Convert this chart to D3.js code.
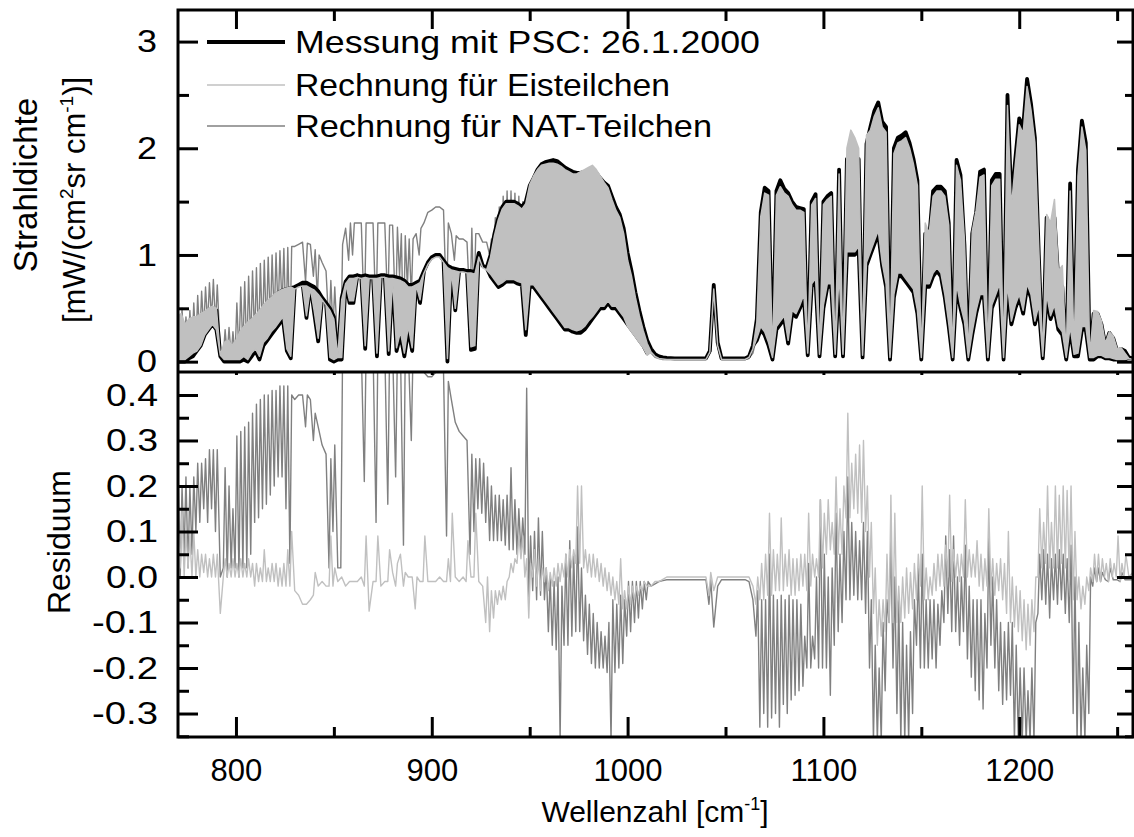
<!DOCTYPE html>
<html><head><meta charset="utf-8">
<script src="https://cdnjs.cloudflare.com/ajax/libs/d3/7.8.5/d3.min.js"></script>
<style>
body{margin:0;background:#fff}
text{font-family:"Liberation Sans",Arial,Helvetica,sans-serif;fill:#000}
</style></head>
<body><svg id="c" width="1134" height="837"></svg>
<script>
// wavenumber grid: bins of 2 cm-1 starting at 770 cm-1; value = number or [min,max] within the bin
const wnStart = 770, wnStep = 2;

const messung = [
[0,0.3],[0,0.35],[0,0.25],[0.03,0.3],[0.05,0.35],
[0.1,0.38],[0.15,0.4],[0.25,0.43],[0.3,0.47],[0.35,0.5],
[0.3,0.48],0.05,[0,0.1],[0,0.12],[0,0.08],
[0,0.15],[0,0.22],[0.02,0.28],[0,0.32],[0.05,0.36],
[0.1,0.4],[0.02,0.45],[0.15,0.5],[0.2,0.55],[0.25,0.58],
[0.3,0.62],[0.35,0.65],[0.4,0.67],[0.1,0.68],[0.03,0.69],
0.7,0.72,0.74,[0.41,0.74],0.72,
[0.45,0.7],[0.19,0.66],0.6,0.55,[0.02,0.5],
[0,0.42],0.02,[0.02,0.6],0.75,[0.55,0.8],
[0.55,0.8],0.81,0.8,[0.12,0.81],0.8,
0.8,[0.05,0.8],0.81,0.81,[0.07,0.8],
0.8,[0.1,0.79],[0.25,0.78],[0.05,0.76],[0.3,0.72],
[0.1,0.72],0.74,[0.55,0.76],0.85,0.93,
0.98,1.0,1.0,0.95,[0,0.9],
0.88,[0.48,0.87],0.86,0.86,0.85,
[0.11,0.85],[0.12,0.84],1.02,0.9,0.88,
[0.8,1.0],[0.75,1.2],[0.7,1.35],[0.72,1.45],[0.75,1.5],
[0.75,1.5],[0.75,1.5],[0.73,1.48],[0.72,1.45],[0.25,1.5],
[0.7,1.65],[0.7,1.72],[0.65,1.8],[0.6,1.85],[0.55,1.87],
[0.5,1.88],[0.45,1.89],[0.4,1.88],[0.35,1.85],[0.3,1.82],
[0.3,1.8],[0.28,1.78],[0.27,1.77],[0.27,1.77],[0.3,1.78],
[0.35,1.78],[0.4,1.78],[0.45,1.77],[0.5,1.72],[0.5,1.68],
[0.55,1.65],[0.5,1.55],[0.5,1.45],[0.45,1.38],[0.4,1.25],
[0.35,1.02],[0.3,0.85],[0.25,0.65],[0.2,0.48],[0.15,0.33],
[0.08,0.2],0.12,0.07,0.05,0.04,
0.035,0.033,0.03,0.03,0.03,
0.03,0.03,0.03,0.03,0.03,
0.03,0.1,0.72,0.18,0.03,
0.03,0.03,0.03,0.03,0.03,
0.03,0.05,0.15,[0.2,0.4],[0.3,1.4],
[0.25,1.63],[0.15,1.6],0.02,[0.3,1.6],[0.35,1.7],
[0.4,1.62],[0.17,1.58],[0.45,1.5],[0.42,1.45],[0.5,1.44],
[0.6,1.43],0.06,[0.7,1.5],[0.75,1.57],0.05,
[0.5,1.5],[0.7,1.55],[0.7,1.58],0.05,[0.8,1.8],
0.05,[1.0,1.9],[1.0,1.92],[1.0,1.9],[1.05,1.9],
0.04,[0.9,2.04],[1.0,2.2],[1.1,2.35],[1.2,2.43],
[0.9,2.25],[0.7,2.2],0.02,[0.6,2.0],[0.8,2.1],
[0.8,2.12],[0.75,2.15],[0.7,2.05],[0.65,1.9],[0.45,1.7],
0.02,[0.7,1.2],[0.7,1.15],[0.8,1.6],[0.85,1.64],
[0.8,1.64],[0.6,1.6],[0.33,1.3],0.02,[0.7,1.89],
[0.5,1.75],[0.35,1.1],0.02,[0.25,1.2],[0.45,1.4],
[0.6,1.78],[0.6,1.8],0.02,[0.5,1.7],[0.6,1.76],
[0.7,1.76],0.02,[0.7,2.5],[0.35,1.5],[0.5,1.9],
[0.6,2.28],[0.45,2.2],[0.7,2.65],[0.6,2.42],[0.35,2.1],
[0.5,1.0],0.03,[0.6,1.35],[0.4,1.2],[0.5,1.35],
[0.3,0.75],[0.25,0.7],0.02,[0.3,1.67],0.05,
[0.05,1.8],[0.3,2.26],[0.3,2.05],0.02,[0.02,0.45],
[0.05,0.45],[0.05,0.35],[0.03,0.15],[0.03,0.27],[0.02,0.22],
[0.02,0.1],[0.02,0.12],[0.02,0.1],0.04,0.03
];

const eis = [
[0.02,0.42],[0.02,0.45],[0.02,0.35],[0.05,0.4],[0.08,0.42],
[0.1,0.42],[0.15,0.45],[0.25,0.47],[0.3,0.5],[0.35,0.52],
[0.3,0.5],0.06,[0.02,0.18],[0.02,0.2],[0.02,0.15],
[0.02,0.2],[0.02,0.28],[0.05,0.33],[0.02,0.37],[0.08,0.4],
[0.12,0.44],[0.05,0.48],[0.18,0.53],[0.22,0.57],[0.28,0.6],
[0.32,0.64],[0.37,0.66],[0.42,0.68],[0.12,0.69],[0.05,0.7],
0.68,0.7,0.71,[0.43,0.71],0.69,
[0.47,0.67],[0.22,0.63],0.58,0.53,[0.04,0.48],
[0.02,0.4],0.04,[0.04,0.58],0.73,[0.57,0.78],
[0.57,0.78],0.79,0.78,[0.15,0.79],0.78,
0.78,[0.08,0.78],0.79,0.79,[0.1,0.78],
0.78,[0.13,0.77],[0.28,0.76],[0.08,0.74],[0.33,0.7],
[0.13,0.7],0.72,[0.58,0.74],0.83,0.91,
0.96,0.98,0.98,0.93,[0.03,0.88],
0.86,[0.5,0.85],0.84,0.84,0.83,
[0.14,0.83],[0.15,0.82],0.98,0.88,0.86,
[0.82,0.98],[0.77,1.18],[0.72,1.33],[0.74,1.43],[0.77,1.48],
[0.77,1.48],[0.77,1.48],[0.75,1.46],[0.74,1.43],[0.3,1.48],
[0.72,1.66],[0.72,1.74],[0.67,1.8],[0.62,1.84],[0.57,1.85],
[0.52,1.86],[0.47,1.86],[0.42,1.85],[0.37,1.83],[0.32,1.8],
[0.32,1.78],[0.3,1.76],[0.29,1.76],[0.3,1.78],[0.33,1.8],
[0.38,1.82],[0.42,1.84],[0.47,1.8],[0.52,1.74],[0.52,1.68],
[0.57,1.63],[0.52,1.52],[0.52,1.42],[0.47,1.35],[0.42,1.2],
[0.33,0.95],[0.28,0.8],[0.23,0.6],[0.18,0.43],[0.13,0.29],
[0.06,0.17],0.09,0.05,0.03,0.025,
0.02,0.02,0.02,0.02,0.02,
0.02,0.02,0.02,0.02,0.02,
0.02,0.09,0.68,0.15,0.02,
0.02,0.02,0.02,0.02,0.02,
0.02,0.04,0.12,[0.22,0.37],[0.33,1.36],
[0.28,1.58],[0.18,1.56],0.04,[0.33,1.56],[0.38,1.64],
[0.43,1.58],[0.2,1.55],[0.48,1.47],[0.45,1.42],[0.53,1.42],
[0.63,1.4],0.08,[0.73,1.47],[0.78,1.53],0.07,
[0.53,1.47],[0.73,1.52],[0.73,1.55],0.07,[0.83,1.76],
0.07,[1.03,2.0],[1.03,2.17],[1.03,2.1],[1.08,2.0],
0.06,[0.93,2.12],[1.03,2.17],[1.13,2.3],[1.23,2.38],
[0.93,2.2],[0.73,2.15],0.04,[0.63,1.95],[0.83,2.05],
[0.83,2.07],[0.78,2.1],[0.73,2.0],[0.68,1.85],[0.48,1.65],
0.04,[0.73,1.3],[0.73,1.2],[0.83,1.55],[0.88,1.6],
[0.83,1.6],[0.63,1.55],[0.36,1.28],0.04,[0.73,1.84],
[0.53,1.7],[0.38,1.15],0.04,[0.28,1.22],[0.48,1.42],
[0.63,1.73],[0.63,1.75],0.04,[0.53,1.65],[0.63,1.71],
[0.73,1.71],0.04,[0.73,2.4],[0.38,1.45],[0.53,1.85],
[0.63,2.22],[0.48,2.14],[0.73,2.58],[0.63,2.36],[0.38,2.05],
[0.53,1.05],0.05,[0.63,1.38],[0.43,1.3],[0.53,1.52],
[0.33,0.85],[0.28,0.9],0.04,[0.33,1.6],0.07,
[0.08,1.74],[0.33,2.2],[0.33,1.98],0.04,[0.04,0.48],
[0.06,0.47],[0.06,0.38],[0.04,0.17],[0.04,0.28],[0.03,0.24],
[0.02,0.12],[0.02,0.13],[0.02,0.08],0.03,0.02
];

const nat = [
[0.05,0.5],[0.05,0.5],[0.05,0.42],[0.1,0.48],[0.12,0.55],
[0.15,0.62],[0.2,0.66],[0.3,0.7],[0.35,0.74],[0.4,0.77],
[0.35,0.72],0.08,[0.05,0.3],[0.05,0.32],[0.05,0.28],
[0.05,0.55],[0.05,0.7],[0.1,0.75],[0.05,0.8],[0.15,0.85],
[0.2,0.88],[0.15,0.92],[0.25,0.95],[0.3,0.98],[0.35,1.0],
[0.4,1.02],[0.45,1.04],[0.5,1.06],[0.3,1.07],[0.2,1.08],
1.08,1.1,1.12,[0.75,1.11],1.1,
[0.8,1.05],[0.6,1.0],0.93,0.85,[0.3,0.76],
[0.3,0.7],0.1,[0.1,1.1],1.25,[0.95,1.3],
[1.0,1.3],1.3,1.3,[0.4,1.3],1.3,
1.3,[0.4,1.3],1.3,1.3,[0.5,1.28],
1.28,[0.4,1.26],[0.8,1.2],[0.2,1.18],[0.7,1.15],
[0.6,1.15],1.2,[1.0,1.25],1.3,1.4,
1.42,1.45,1.45,1.42,[0.5,1.3],
1.2,[0.95,1.18],1.15,1.15,1.12,
[0.5,1.25],[0.5,1.2],1.2,1.12,1.12,
[1.0,1.15],[0.95,1.35],[0.9,1.45],[0.9,1.55],[0.9,1.6],
[0.9,1.6],[0.9,1.58],[0.88,1.55],[0.85,1.5],[0.4,1.5],
[0.8,1.6],[0.75,1.62],[0.65,1.65],[0.6,1.7],[0.55,1.72],
[0.5,1.75],[0.45,1.75],[0.4,1.72],[0.35,1.7],[0.3,1.68],
[0.3,1.68],[0.28,1.66],[0.27,1.65],[0.27,1.63],[0.3,1.62],
[0.35,1.62],[0.4,1.6],[0.45,1.58],[0.5,1.55],[0.5,1.5],
[0.55,1.45],[0.5,1.4],[0.5,1.3],[0.45,1.22],[0.4,1.1],
[0.35,0.88],[0.3,0.72],[0.25,0.52],[0.2,0.37],[0.15,0.24],
[0.08,0.15],0.08,0.04,0.03,0.02,
0.02,0.02,0.02,0.02,0.02,
0.02,0.02,0.02,0.02,0.02,
0.02,0.08,0.62,0.14,0.02,
0.02,0.02,0.02,0.02,0.02,
0.02,0.03,0.08,[0.2,0.3],[0.3,1.2],
[0.25,1.45],[0.15,1.4],0.02,[0.3,1.4],[0.35,1.45],
[0.4,1.45],[0.17,1.4],[0.45,1.35],[0.42,1.3],[0.5,1.3],
[0.6,1.3],0.06,[0.7,1.35],[0.75,1.4],0.05,
[0.5,1.35],[0.7,1.4],[0.7,1.4],0.05,[0.8,1.6],
0.05,[1.0,1.8],[1.0,1.8],[1.0,1.8],[1.05,1.8],
0.04,[0.9,1.9],[1.0,1.95],[1.1,1.95],[1.2,1.95],
[0.95,1.9],[0.75,1.85],0.02,[0.65,1.7],[0.85,1.8],
[0.85,1.8],[0.8,1.8],[0.75,1.75],[0.7,1.65],[0.5,1.5],
0.02,[0.75,1.05],[0.75,1.0],[0.85,1.4],[0.9,1.45],
[0.85,1.45],[0.65,1.4],[0.35,1.1],0.02,[0.75,1.65],
[0.55,1.55],[0.4,0.95],0.02,[0.3,1.0],[0.5,1.2],
[0.65,1.55],[0.65,1.55],0.02,[0.55,1.45],[0.65,1.5],
[0.75,1.5],0.02,[0.75,2.1],[0.4,1.25],[0.55,1.6],
[0.65,1.95],[0.5,1.85],[0.75,2.3],[0.65,2.1],[0.4,1.8],
[0.5,0.8],0.03,[0.6,1.2],[0.4,1.05],[0.5,1.2],
[0.3,0.65],[0.25,0.6],0.02,[0.3,1.5],0.05,
[0.05,1.5],[0.3,1.85],[0.3,1.7],0.02,[0.02,0.4],
[0.05,0.4],[0.05,0.3],[0.03,0.12],[0.03,0.22],[0.02,0.18],
0.02,0.02,0.02,0.02,0.02
];

const resEis = [
[0,0.12],[0.02,0.15],[0,0.1],[0.02,0.09],[0,0.1],
[0,0.06],[0,0.05],[0.01,0.05],[0,0.04],[0,0.05],
[0,0.05],-0.08,[0,0.04],[0,0.03],[0,0.04],
[0,0.03],[0,0.04],[0,0.03],[0,0.04],[0,0.03],
[-0.02,0.03],[-0.01,0.02],[-0.01,0.06],[-0.01,0.02],[-0.01,0.03],
[-0.01,0.03],[-0.02,0.02],[-0.02,0.03],[-0.02,0.06],[-0.02,0.1],
-0.03,-0.04,-0.06,-0.06,-0.05,
[-0.04,0.01],-0.02,-0.01,-0.02,[-0.02,0.09],
[-0.02,0.02],-0.01,0.0,-0.02,-0.01,
-0.01,-0.01,0.0,[-0.02,0.09],-0.075,
-0.01,[-0.01,0.09],-0.02,-0.01,[-0.01,0.06],
0.01,[-0.02,0.03],0.05,[-0.02,0.01],0.0,
0.0,[-0.07,0.0],-0.01,[-0.01,0.09],-0.01,
-0.01,-0.01,0.0,-0.01,[-0.01,0.04],
[-0.01,0.14],0.0,-0.01,0.0,[-0.01,0.08],
0.0,[0.0,0.14],-0.01,-0.02,[-0.1,0.0],
[-0.12,-0.03],[-0.09,-0.03],[-0.06,-0.03],[-0.05,-0.02],[-0.05,-0.01],
[0,0.03],[0.01,0.04],[0.03,0.09],[0.04,0.09],[0,0.04],
[-0.09,0.03],[0,0.06],[-0.02,0.04],[-0.03,0.02],[-0.01,0.02],
[-0.03,0.01],[-0.02,0.02],[-0.02,0.03],[-0.01,0.03],[0,0.05],
[0,0.06],[0.02,0.06],[0.03,0.2],[0.03,0.2],[0.02,0.06],
[0.01,0.05],[0,0.05],[0,0.04],[-0.01,0.03],[-0.02,0.02],
[-0.03,0.01],[-0.04,0],[-0.05,-0.01],[-0.06,0.04],[-0.07,-0.03],
[-0.07,-0.02],[-0.06,-0.02],[-0.05,-0.02],[-0.04,-0.02],[-0.03,-0.01],
-0.02,-0.02,-0.01,-0.01,-0.005,
0,0,0,0,0,
0,0,0,0,0,
0,[-0.04,0.01],-0.03,0,0,
0,0,0,0,0,
0,0,-0.02,[-0.06,0],[-0.05,0.03],
[-0.05,0.05],[-0.04,0.14],[-0.04,0.06],[-0.03,0.05],[-0.03,0.13],
[-0.03,0.05],[-0.02,0.06],[-0.04,0.04],[-0.04,0.04],[-0.03,0.05],
[-0.02,0.05],[-0.03,0.14],[-0.02,0.05],[0,0.04],[0,0.17],
[0.02,0.14],[0.05,0.17],[0.06,0.12],[0.05,0.22],[0.05,0.15],
[0.05,0.2],[0.13,0.36],[0.13,0.25],[0.15,0.27],[0.14,0.29],
[0.12,0.3],[0.1,0.2],[0,0.12],[-0.08,0.02],[-0.15,-0.05],
[-0.13,-0.05],[-0.12,0.05],[-0.1,0.18],[-0.1,0.14],[-0.1,-0.02],
[-0.1,0],[-0.09,0.02],[-0.08,0.01],[-0.07,0.03],[-0.05,0.05],
[-0.02,0.2],[-0.05,0.02],[-0.05,0],[-0.04,0.03],[-0.03,0.05],
[-0.02,0.05],[-0.02,0.07],[0,0.18],[-0.01,0.06],[0,0.05],
[-0.01,0.05],[0,0.17],[0,0.06],[0,0.05],[0,0.08],
[-0.02,0.05],[-0.03,0.04],[-0.02,0.15],[-0.03,0.04],[-0.04,0.03],
[-0.03,0.04],[-0.05,0.03],[-0.08,0.1],[-0.1,0],[-0.11,-0.02],
[-0.12,-0.03],[-0.14,-0.05],[-0.16,-0.06],[-0.15,-0.05],[-0.12,0],
[0,0.15],[0.02,0.12],[0.03,0.2],[0.02,0.12],[0.02,0.2],
[0.02,0.18],[0.03,0.2],[0.02,0.19],[0,0.2],[-0.05,0.1],
[-0.05,0],[-0.07,-0.02],[-0.06,0],[-0.03,0.02],[-0.01,0.05],
[-0.01,0.05],[-0.01,0.04],[0,0.03],[-0.01,0.04],[0,0.03],
[0,0.09],[-0.01,0.03],[0,0.05],0,0.01
];

const resNat = [
[0.02,0.22],[0,0.2],[0.05,0.22],[0.02,0.2],[0.05,0.22],
[0.1,0.25],[0.12,0.25],[0.15,0.26],[0.12,0.28],[0.15,0.28],
[0.1,0.28],0.0,[0.02,0.24],[0,0.2],[0.02,0.15],
[0.02,0.31],[0,0.32],[0.02,0.33],[0.02,0.34],[0.05,0.36],
[0.12,0.38],[0.13,0.39],[0.15,0.4],[0.16,0.4],[0.18,0.41],
[0.2,0.41],[0.22,0.42],[0.22,0.42],[0.15,0.42],[0.03,0.4],
0.39,0.4,0.4,[0.33,0.4],0.39,
[0.3,0.36],0.33,0.29,0.27,[0.02,0.26],
[0.1,0.29],0.02,[0.02,0.5],0.5,0.5,
0.5,0.5,0.5,[0.21,0.5],0.5,
0.5,[0.12,0.5],0.5,0.5,[0.16,0.5],
0.5,[0.22,0.5],0.5,[0.07,0.5],0.5,
[0.3,0.5],0.45,0.45,0.45,0.44,
0.44,0.45,0.45,0.45,[0.09,0.43],
0.39,0.34,0.32,0.31,0.3,
[0.05,0.27],[0.1,0.26],[0.15,0.26],[0.14,0.25],[0.12,0.22],
[0.08,0.2],[0.08,0.18],[0.08,0.18],[0.08,0.17],[0.07,0.18],
[0.06,0.24],[0.06,0.17],[0.05,0.15],[0.05,0.13],[0.05,0.415],
[-0.05,0.09],[-0.03,0.1],[-0.05,0.13],[-0.04,0.1],[-0.05,0.02],
[-0.12,0],[-0.15,-0.01],[-0.16,0],[-0.36,-0.02],[-0.15,0.05],
[-0.15,0.08],[-0.13,0.05],[-0.12,0.11],[-0.12,0.02],[-0.14,-0.04],
[-0.17,-0.06],[-0.19,-0.08],[-0.2,-0.1],[-0.2,-0.12],[-0.2,-0.13],
[-0.21,-0.1],[-0.36,-0.05],[-0.21,-0.06],[-0.2,-0.04],[-0.19,-0.05],
[-0.13,-0.01],[-0.12,-0.01],[-0.1,-0.01],[-0.09,-0.01],[-0.07,-0.01],
[-0.05,-0.01],-0.02,-0.015,-0.01,-0.008,
-0.006,-0.006,-0.006,-0.006,-0.006,
-0.006,-0.006,-0.006,-0.006,-0.006,
-0.006,[-0.06,-0.006],-0.11,-0.02,-0.006,
-0.006,-0.006,-0.006,-0.006,-0.006,
-0.006,-0.01,-0.05,[-0.13,-0.03],[-0.33,-0.05],
[-0.3,-0.05],[-0.33,0.05],[-0.31,-0.04],[-0.3,-0.05],[-0.33,-0.04],
[-0.28,-0.05],[-0.3,-0.04],[-0.27,-0.05],[-0.26,-0.05],[-0.25,-0.06],
[-0.24,-0.13],[-0.2,0.03],[-0.2,-0.13],[-0.18,0],[-0.2,0.17],
[-0.2,0.05],[-0.2,0],[-0.26,0.02],[-0.15,0.14],[-0.12,0.05],
[-0.1,0.1],[-0.05,0.22],[-0.05,0.12],[-0.04,0.1],[-0.05,0.08],
[-0.05,0.12],[-0.08,0.1],[-0.2,-0.05],[-0.36,-0.15],[-0.36,-0.2],
[-0.36,-0.1],[-0.25,-0.05],[-0.1,0.08],[-0.2,0],[-0.3,-0.05],
[-0.36,-0.1],[-0.36,-0.15],[-0.36,-0.12],[-0.3,-0.05],[-0.15,0.02],
[-0.2,0.05],[-0.2,-0.05],[-0.2,-0.05],[-0.18,-0.05],[-0.2,-0.06],
[-0.15,-0.03],[-0.1,0.09],[-0.08,0.06],[-0.12,0.09],[-0.12,0],
[-0.15,0],[-0.12,0.07],[-0.18,-0.02],[-0.22,-0.05],[-0.25,-0.05],
[-0.27,-0.05],[-0.29,-0.08],[-0.2,0.09],[-0.15,0],[-0.2,-0.05],
[-0.25,-0.1],[-0.28,-0.12],[-0.27,-0.1],[-0.26,-0.1],[-0.36,-0.15],
[-0.36,-0.2],[-0.36,-0.2],[-0.36,-0.25],[-0.36,-0.2],[-0.36,-0.1],
[-0.08,0.05],[-0.05,0.06],[-0.06,0.05],[-0.09,0.04],[-0.05,0.05],
[-0.06,0.06],[-0.05,0.05],[-0.08,0.04],[-0.1,0.07],[-0.3,0],
[-0.36,-0.1],[-0.36,-0.2],[-0.36,-0.15],[-0.3,0],[-0.02,0.02],
[-0.01,0.02],[-0.01,0.01],-0.006,[-0.01,0.02],-0.006,
-0.006,[-0.01,0.01],-0.006,-0.006,-0.006
];

const topTicks = [0,1,2,3], topLabels = ["0","1","2","3"], topMinor = [0.5,1.5,2.5];
const botTicks = [-0.3,-0.2,-0.1,0,0.1,0.2,0.3,0.4];
const botLabels = ["-0.3","-0.2","-0.1","0.0","0.1","0.2","0.3","0.4"];
const botMinor = [-0.35,-0.25,-0.15,-0.05,0.05,0.15,0.25,0.35];
const xTicks = [800,900,1000,1100,1200], xLabels = ["800","900","1000","1100","1200"];
const xMinor = [850,950,1050,1150,1250];
const legendLabels = ["Messung mit PSC: 26.1.2000","Rechnung für Eisteilchen","Rechnung für NAT-Teilchen"];
const colors = {mess:"#000000", eis:"#c0c0c0", nat:"#808080"};

const svg = d3.select("#c");
const L = 178, R = 1133, T = 10, MID = 372, B = 737;
const x = d3.scaleLinear().domain([770.4, 1258.1]).range([L, R]);
const yTop = d3.scaleLinear().domain([-0.097, 3.296]).range([MID, T]);
const yBot = d3.scaleLinear().domain([-0.3516, 0.4505]).range([B, MID]);
const wn = messung.map((d, i) => wnStart + i * wnStep);

const lo = d => Array.isArray(d) ? d[0] : d;
const hi = d => Array.isArray(d) ? d[1] : d;

const defs = svg.append("defs");
defs.append("clipPath").attr("id","clipTop").append("rect").attr("x",L).attr("y",T).attr("width",R-L).attr("height",MID-T);
defs.append("clipPath").attr("id","clipBot").append("rect").attr("x",L).attr("y",MID).attr("width",R-L).attr("height",B-MID);

// filled min/max envelope (dense line spectra)
function drawBand(g, data, y, color, sw){
  const area = d3.area()
    .x((d, i) => x(wn[i]))
    .y0(d => y(lo(d)))
    .y1(d => y(hi(d)));
  g.append("path").datum(data).attr("d", area)
    .attr("fill", color).attr("stroke", color).attr("stroke-width", sw)
    .attr("stroke-linejoin", "round");
}
// min/max trace drawn as a spiky line
function drawTrace(g, data, y, color, sw){
  const pts = [];
  data.forEach((d, i) => {
    const xc = x(wn[i]);
    if (Array.isArray(d)) { pts.push([xc - 0.9, y(d[0])]); pts.push([xc + 0.9, y(d[1])]); }
    else pts.push([xc, y(d)]);
  });
  g.append("path").attr("d", d3.line()(pts))
    .attr("fill", "none").attr("stroke", color).attr("stroke-width", sw)
    .attr("stroke-linejoin", "round");
}

const gTop = svg.append("g").attr("clip-path","url(#clipTop)");
drawTrace(gTop, nat, yTop, colors.nat, 1.4);
drawBand(gTop, messung, yTop, colors.mess, 3.8);
drawBand(gTop, eis, yTop, colors.eis, 1.5);

const gBot = svg.append("g").attr("clip-path","url(#clipBot)");
drawTrace(gBot, resNat, yBot, colors.nat, 1.4);
drawTrace(gBot, resEis, yBot, colors.eis, 1.4);

// frame
svg.append("rect").attr("x",L).attr("y",T).attr("width",R-L).attr("height",B-T)
  .attr("fill","none").attr("stroke","#000").attr("stroke-width",3);
svg.append("line").attr("x1",L).attr("x2",R).attr("y1",MID).attr("y2",MID)
  .attr("stroke","#000").attr("stroke-width",3);

const ff = "Liberation Sans, Arial, sans-serif";
function styleAxis(g, fs, widthFn){
  g.select(".domain").remove();
  g.selectAll(".tick line").attr("stroke","#000").attr("stroke-width",3);
  const t = g.selectAll("text").attr("font-size",fs).attr("font-family",ff).attr("fill","#000");
  if (widthFn) t.attr("textLength", function(){ return widthFn(this.textContent); })
                .attr("lengthAdjust","spacingAndGlyphs");
  g.attr("font-size",null).attr("font-family",null);
  return g;
}
const yLabW = s => s.length === 1 ? 20 : (s[0] === "-" ? 66 : 52);
// left axes
styleAxis(svg.append("g").attr("transform",`translate(${L},0)`)
  .call(d3.axisLeft(yTop).tickValues(topTicks).tickSize(-20).tickPadding(21).tickFormat((d,i)=>topLabels[i])), 32, yLabW);
styleAxis(svg.append("g").attr("transform",`translate(${L},0)`)
  .call(d3.axisLeft(yTop).tickValues(topMinor).tickSize(-11).tickFormat("")), 32);
styleAxis(svg.append("g").attr("transform",`translate(${L},0)`)
  .call(d3.axisLeft(yBot).tickValues(botTicks).tickSize(-20).tickPadding(20).tickFormat((d,i)=>botLabels[i])), 32, yLabW);
styleAxis(svg.append("g").attr("transform",`translate(${L},0)`)
  .call(d3.axisLeft(yBot).tickValues(botMinor).tickSize(-11).tickFormat("")), 32);
// right axes
styleAxis(svg.append("g").attr("transform",`translate(${R},0)`)
  .call(d3.axisRight(yTop).tickValues(topTicks).tickSize(-16).tickFormat("")), 32);
styleAxis(svg.append("g").attr("transform",`translate(${R},0)`)
  .call(d3.axisRight(yTop).tickValues(topMinor).tickSize(-8).tickFormat("")), 32);
styleAxis(svg.append("g").attr("transform",`translate(${R},0)`)
  .call(d3.axisRight(yBot).tickValues(botTicks).tickSize(-16).tickFormat("")), 32);
styleAxis(svg.append("g").attr("transform",`translate(${R},0)`)
  .call(d3.axisRight(yBot).tickValues(botMinor).tickSize(-8).tickFormat("")), 32);
// top edge
styleAxis(svg.append("g").attr("transform",`translate(0,${T})`)
  .call(d3.axisTop(x).tickValues(xTicks).tickSize(-19).tickFormat("")), 32);
styleAxis(svg.append("g").attr("transform",`translate(0,${T})`)
  .call(d3.axisTop(x).tickValues(xMinor).tickSize(-11).tickFormat("")), 32);
// bottom edge
styleAxis(svg.append("g").attr("transform",`translate(0,${B})`)
  .call(d3.axisBottom(x).tickValues(xTicks).tickSize(-20).tickPadding(22).tickFormat((d,i)=>xLabels[i])), 31);
styleAxis(svg.append("g").attr("transform",`translate(0,${B})`)
  .call(d3.axisBottom(x).tickValues(xMinor).tickSize(-10).tickFormat("")), 32);
// tiny ticks along the panel boundary
styleAxis(svg.append("g").attr("transform",`translate(0,${MID})`)
  .call(d3.axisBottom(x).tickValues(xTicks.concat(xMinor)).tickSize(3).tickFormat("")), 32);

// axis titles
svg.append("text").attr("transform","translate(37,185) rotate(-90)").attr("text-anchor","middle")
  .attr("font-size",33).attr("font-family",ff).text("Strahldichte");
const t2 = svg.append("text").attr("transform","translate(85,200) rotate(-90)").attr("text-anchor","middle")
  .attr("font-size",31).attr("font-family",ff);
t2.append("tspan").text("[mW/(cm");
t2.append("tspan").attr("font-size",19).attr("dy",-12).text("2");
t2.append("tspan").attr("dy",12).text("sr cm");
t2.append("tspan").attr("font-size",19).attr("dy",-12).text("-1");
t2.append("tspan").attr("dy",12).text(")]");
svg.append("text").attr("transform","translate(70,542) rotate(-90)").attr("text-anchor","middle")
  .attr("font-size",32).attr("font-family",ff).text("Residuum");
const tx = svg.append("text").attr("x",655).attr("y",822).attr("text-anchor","middle")
  .attr("font-size",30).attr("font-family",ff);
tx.append("tspan").text("Wellenzahl [cm");
tx.append("tspan").attr("font-size",18).attr("dy",-12).text("-1");
tx.append("tspan").attr("dy",12).text("]");

// legend
const legY = [42, 85, 126];
const legW = [465, 375, 417];
const legStyle = [{c:colors.mess,w:4},{c:colors.eis,w:1.6},{c:colors.nat,w:1.6}];
legendLabels.forEach((lab, i) => {
  svg.append("line").attr("x1",207).attr("x2",285).attr("y1",legY[i]).attr("y2",legY[i])
    .attr("stroke",legStyle[i].c).attr("stroke-width",legStyle[i].w);
  svg.append("text").attr("x",295).attr("y",legY[i]+11).attr("font-size",32).attr("font-family",ff)
    .attr("textLength",legW[i]).attr("lengthAdjust","spacingAndGlyphs").text(lab);
});
</script></body></html>
